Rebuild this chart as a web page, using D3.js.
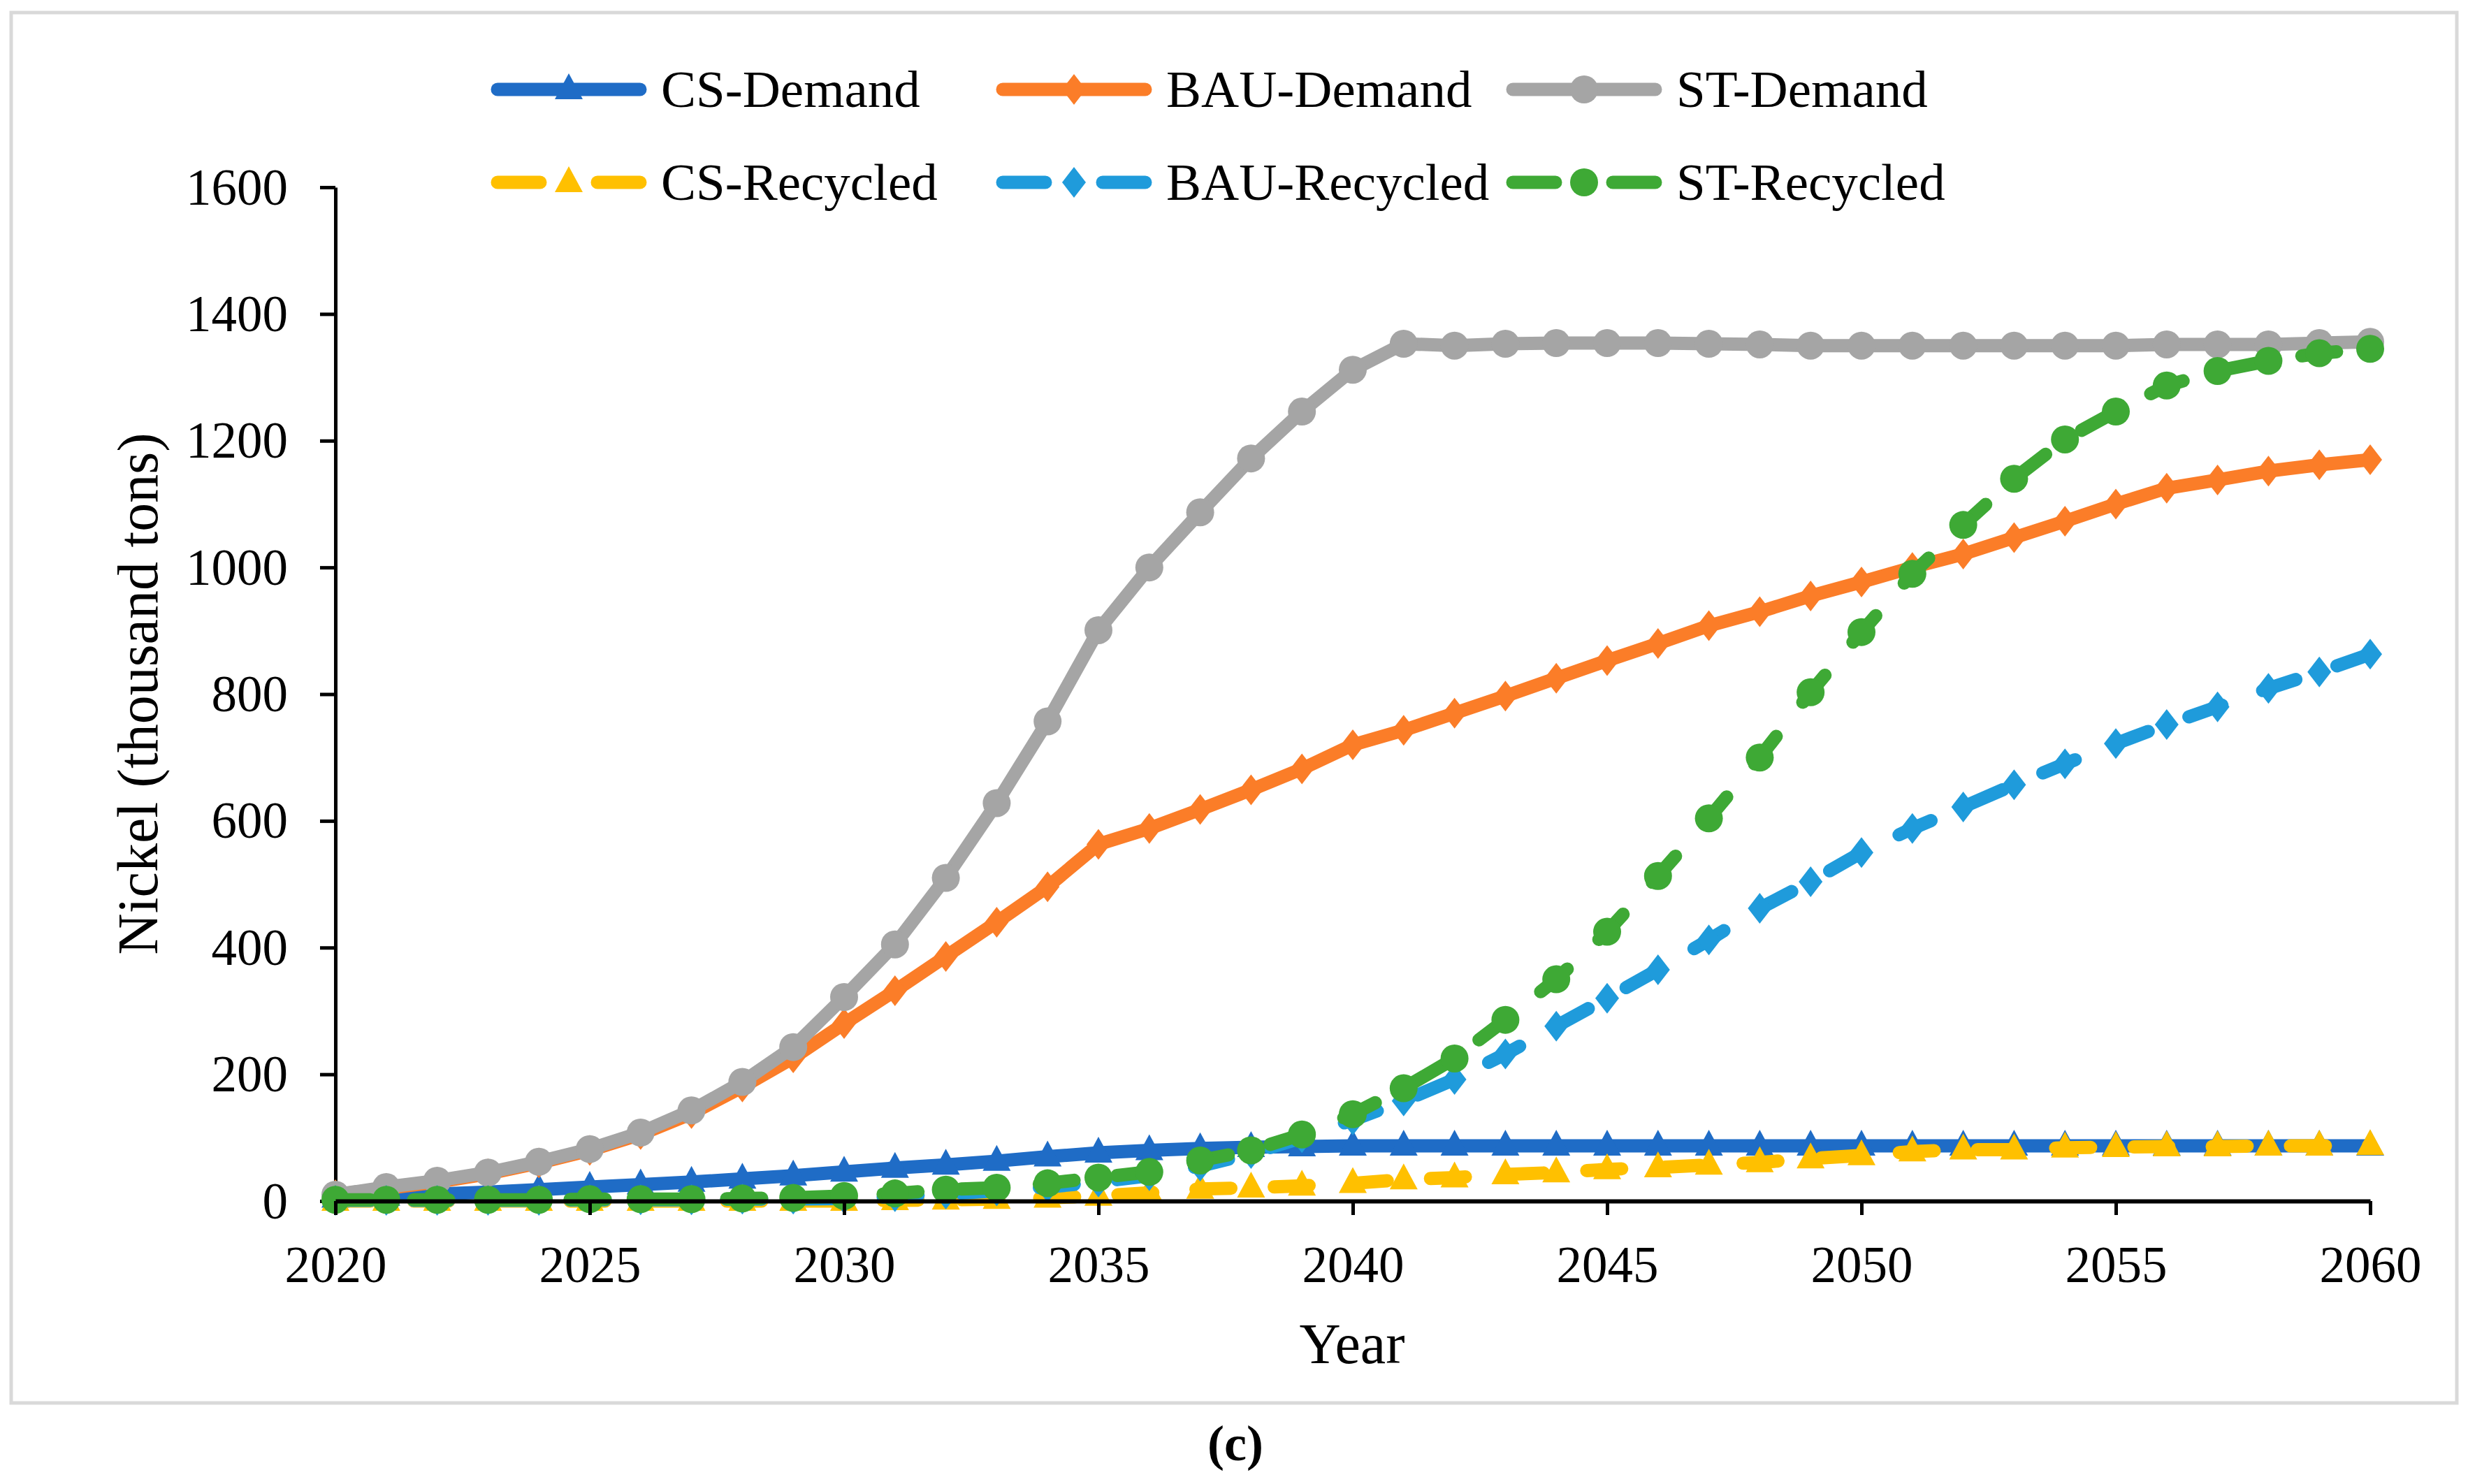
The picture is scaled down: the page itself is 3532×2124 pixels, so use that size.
<!DOCTYPE html>
<html>
<head>
<meta charset="utf-8">
<script src="https://cdn.jsdelivr.net/npm/d3@7"></script>
<style>
  body { margin: 0; background: #fff; }
  text { font-family: "Liberation Serif", "Times New Roman", serif; fill: #000; }
</style>
</head>
<body>
<script>
// years on the x axis
var years = d3.range(2020, 2061);

// nickel, thousand tons, one value per year 2020..2060
var csDemand = [5, 8, 11, 14, 18, 22, 26, 30, 35, 40,
  46, 52, 57, 63, 70, 76, 80, 83, 85, 86,
  87, 87, 87, 87, 87, 87, 87, 87, 87, 87,
  87, 87, 87, 87, 87, 87, 87, 87, 87, 87, 87];
var bauDemand = [10, 20, 30, 43, 60, 80, 105, 138, 180, 226,
  280, 332, 386, 440, 496, 563, 588, 618, 649, 682,
  720, 743, 770, 797, 825, 853, 880, 908, 930, 955,
  977, 1000, 1021, 1047, 1073, 1100, 1125, 1138, 1152, 1162, 1170];
var stDemand = [10, 22, 32, 45, 62, 82, 108, 143, 188, 243,
  322, 405, 510, 628, 757, 901, 1000, 1087, 1172, 1246,
  1312, 1353, 1350, 1353, 1354, 1354, 1354, 1353, 1352, 1350,
  1350, 1350, 1350, 1350, 1350, 1350, 1352, 1352, 1352, 1354, 1356];
var csRecycled = [0, 0, 0, 0, 0, 0, 0, 0, 0, 0,
  0, 1, 2, 3, 5, 8, 13, 19, 21, 24,
  28, 34, 37, 42, 45, 50, 53, 57, 61, 67,
  72, 78, 81, 81, 84, 85, 86, 86, 87, 87, 88];
var bauRecycled = [1, 1, 1, 1, 1, 2, 2, 2, 3, 3,
  4, 7, 11, 16, 22, 30, 40, 55, 75, 100,
  128, 158, 192, 232, 276, 320, 365, 412, 462, 504,
  550, 588, 622, 657, 690, 722, 752, 780, 809, 835, 863];
var stRecycled = [2, 2, 2, 2, 2, 3, 3, 3, 4, 5,
  8, 12, 18, 21, 28, 37, 46, 64, 80, 105,
  137, 178, 225, 286, 350, 425, 513, 604, 700, 803,
  898, 990, 1067, 1140, 1202, 1246, 1287, 1310, 1326, 1338, 1345];

var seriesNames = ["CS-Demand", "BAU-Demand", "ST-Demand", "CS-Recycled", "BAU-Recycled", "ST-Recycled"];
var xTicks = [2020, 2025, 2030, 2035, 2040, 2045, 2050, 2055, 2060];
var yTicks = [0, 200, 400, 600, 800, 1000, 1200, 1400, 1600];

// look of each series (kept apart from the values)
var looks = [
  { data: csDemand,    color: "#1f6cc6", dashed: false, marker: "triangle" },
  { data: bauDemand,   color: "#fb7d28", dashed: false, marker: "diamond" },
  { data: stDemand,    color: "#a5a5a5", dashed: false, marker: "circle" },
  { data: csRecycled,  color: "#ffc000", dashed: true,  marker: "triangle" },
  { data: bauRecycled, color: "#1f9bdb", dashed: true,  marker: "diamond" },
  { data: stRecycled,  color: "#3ea935", dashed: true,  marker: "circle" }
];

var w = 3532;
var h = 2124;
var lineW = 19;

var svg = d3.select("body").append("svg")
  .attr("width", w)
  .attr("height", h);

// light frame round the chart
svg.append("rect")
  .attr("x", 16).attr("y", 18)
  .attr("width", 3500).attr("height", 1990)
  .attr("fill", "none")
  .attr("stroke", "#d9d9d9")
  .attr("stroke-width", 5);

var x = d3.scaleLinear().domain([2020, 2060]).range([480, 3392]);
var y = d3.scaleLinear().domain([0, 1600]).range([1719, 268]);

// marker shapes
function markerPath(kind) {
  if (kind == "triangle") {
    return "M0,-23 L20,14 L-20,14 Z";
  }
  if (kind == "diamond") {
    return "M0,-22 L17,0 L0,22 L-17,0 Z";
  }
  return d3.symbol().type(d3.symbolCircle).size(Math.PI * 20 * 20)();
}

// y axis
var yAxis = svg.append("g")
  .attr("transform", "translate(480,0)")
  .call(d3.axisLeft(y).tickValues(yTicks).tickSize(22).tickSizeOuter(0).tickPadding(46).tickFormat(d3.format("d")));
yAxis.select(".domain").attr("stroke", "#000").attr("stroke-width", 5);
yAxis.selectAll(".tick line").attr("stroke", "#000").attr("stroke-width", 5);
yAxis.selectAll(".tick text")
  .attr("font-size", 73)
  .attr("dy", "0.33em")
  .style("font-family", "'Liberation Serif', 'Times New Roman', serif");

var line = d3.line()
  .x(function(d, i) { return x(years[i]); })
  .y(function(d) { return y(d); });

var plot = svg.append("g");

looks.forEach(function(s) {
  plot.append("path")
    .datum(s.data)
    .attr("d", line)
    .attr("fill", "none")
    .attr("stroke", s.color)
    .attr("stroke-width", lineW)
    .attr("stroke-linejoin", "round")
    .attr("stroke-linecap", "round")
    .attr("stroke-dasharray", s.dashed ? "50,62" : null);

  plot.selectAll(null)
    .data(s.data)
    .enter()
    .append("path")
    .attr("d", markerPath(s.marker))
    .attr("transform", function(d, i) { return "translate(" + x(years[i]) + "," + y(d) + ")"; })
    .attr("fill", s.color);
});

// x axis on top of the marks at zero
var xAxis = svg.append("g")
  .attr("transform", "translate(0,1719)")
  .call(d3.axisBottom(x).tickValues(xTicks).tickSize(20).tickSizeOuter(0).tickPadding(44).tickFormat(d3.format("d")));
xAxis.select(".domain").attr("stroke", "#000").attr("stroke-width", 6);
xAxis.selectAll(".tick line").attr("stroke", "#000").attr("stroke-width", 5);
xAxis.selectAll(".tick text")
  .attr("font-size", 73)
  .attr("dy", "0.71em")
  .style("font-family", "'Liberation Serif', 'Times New Roman', serif");

// axis titles
svg.append("text")
  .text("Year")
  .attr("x", 1935).attr("y", 1951)
  .attr("text-anchor", "middle")
  .attr("font-size", 82);

svg.append("text")
  .text("Nickel (thousand tons)")
  .attr("transform", "translate(225,993) rotate(-90)")
  .attr("text-anchor", "middle")
  .attr("font-size", 82);

svg.append("text")
  .text("(c)")
  .attr("x", 1768).attr("y", 2090)
  .attr("text-anchor", "middle")
  .attr("font-size", 72)
  .attr("font-weight", "bold");

// legend, two rows of three
var legendX = [703, 1426, 2156];
var legendY = [128, 261];

var legend = svg.append("g");
looks.forEach(function(s, i) {
  var lx = legendX[i % 3];
  var ly = legendY[Math.floor(i / 3)];
  var g = legend.append("g").attr("transform", "translate(" + lx + "," + ly + ")");
  if (s.dashed) {
    [[9, 70], [152, 213]].forEach(function(seg) {
      g.append("line")
        .attr("x1", seg[0]).attr("x2", seg[1])
        .attr("stroke", s.color).attr("stroke-width", lineW)
        .attr("stroke-linecap", "round");
    });
  } else {
    g.append("line")
      .attr("x1", 9).attr("x2", 213)
      .attr("stroke", s.color).attr("stroke-width", lineW)
      .attr("stroke-linecap", "round");
  }
  g.append("path")
    .attr("d", markerPath(s.marker))
    .attr("transform", "translate(111,0)")
    .attr("fill", s.color);
  g.append("text")
    .text(seriesNames[i])
    .attr("x", 243).attr("y", 25)
    .attr("font-size", 75);
});
</script>
</body>
</html>
